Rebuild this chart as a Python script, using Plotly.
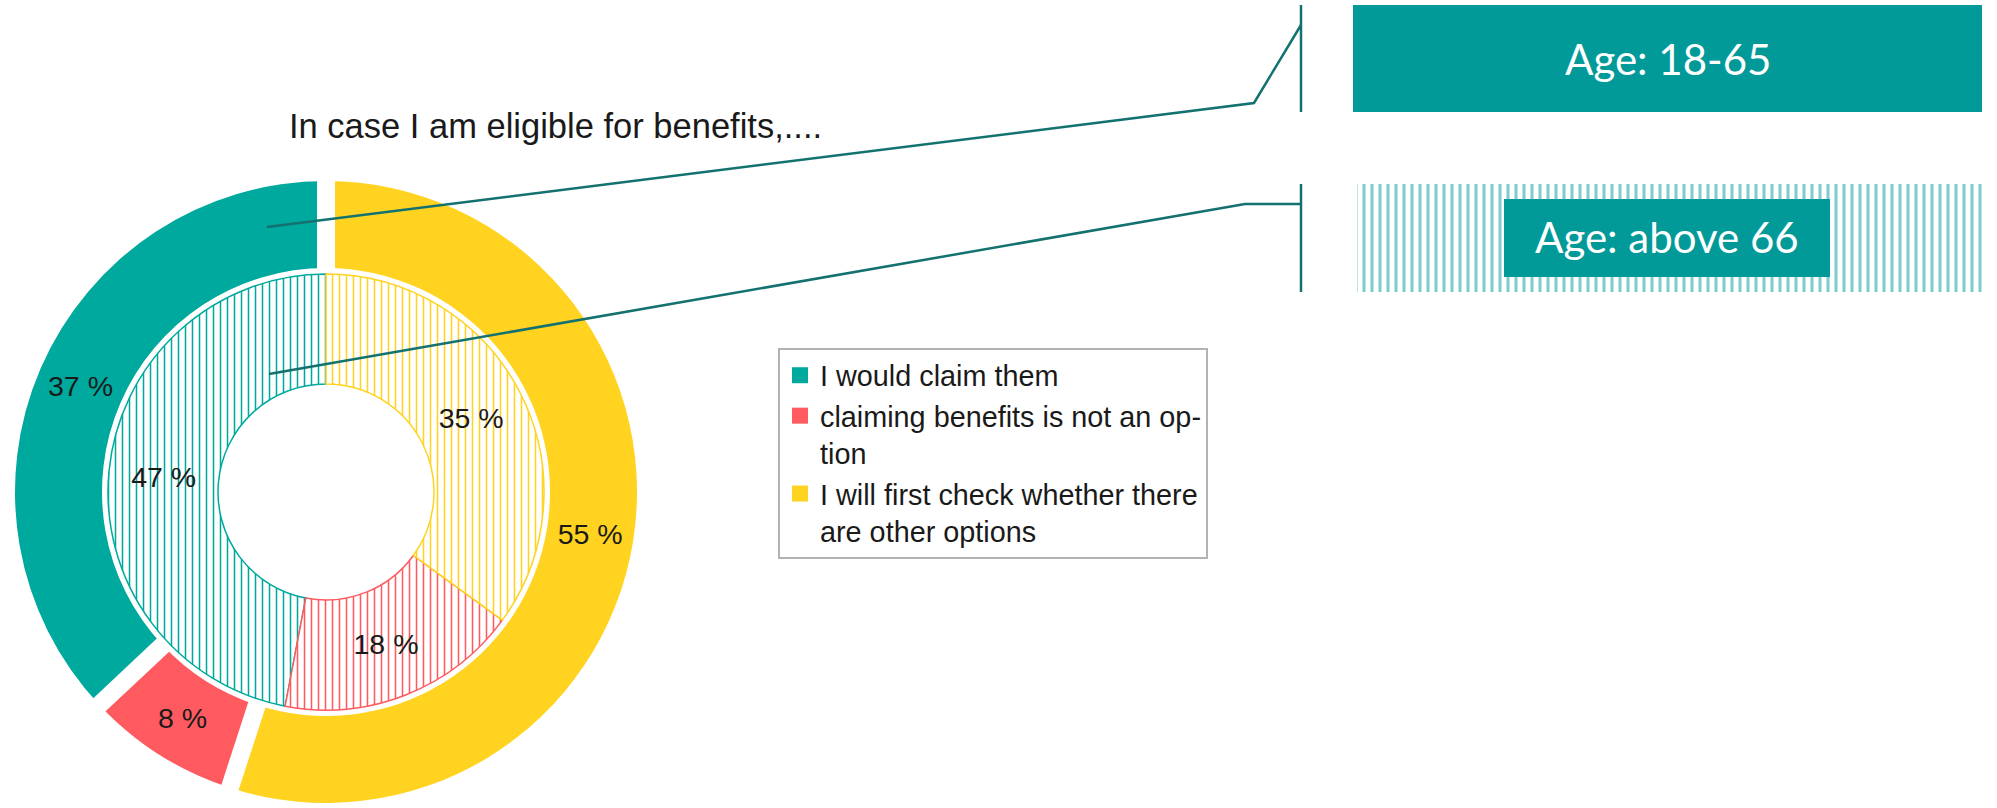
import math
import plotly.graph_objects as go

# ---------------- data ----------------
categories = ["I would claim them",
              "claiming benefits is not an option",
              "I will first check whether there are other options"]
legend_labels = ["I would claim them",
                 "claiming benefits is not an op-<br>tion",
                 "I will first check whether there<br>are other options"]
age_18_65 = [37, 8, 55]        # outer ring (solid)
age_above_66 = [47, 18, 35]    # inner ring (hatched)
colors = ["#00a99d", "#ff5a5f", "#ffd320"]
title_text = "In case I am eligible for benefits,...."
group_labels = ["Age: 18-65", "Age: above 66"]

# ---------------- geometry (pixels) ----------------
W, H = 1997, 808
CX, CY = 326, 492
R_OUT, R_OUT_HOLE = 311, 224
R_IN, R_IN_HOLE = 218, 108
GAP = 18
BOX_TEAL = "#029a99"
LINE_TEAL = "#137170"
TXT = "#1a1a1a"


def dom(r):
    return dict(x=[(CX - r) / W, (CX + r) / W],
                y=[(H - CY - r) / H, (H - CY + r) / H])


def first_slice_rotation(vals):
    # plotly's counterclockwise mode puts the first slice to the right of 12 o'clock;
    # rotate so that the first slice starts at 12 o'clock and runs counter-clockwise
    return -360.0 * vals[0] / sum(vals)


fig = go.Figure()

# outer ring: Age 18-65
fig.add_trace(go.Pie(
    labels=categories, values=age_18_65, sort=False,
    direction="counterclockwise", rotation=first_slice_rotation(age_18_65),
    hole=R_OUT_HOLE / R_OUT, domain=dom(R_OUT),
    marker=dict(colors=colors, line=dict(width=0)),
    text=[f"{v} %" for v in age_18_65], textinfo="text",
    textposition="inside", insidetextorientation="horizontal",
    textfont=dict(family="Liberation Sans", size=28.5, color=TXT),
    insidetextfont=dict(family="Liberation Sans", size=28.5, color=TXT),
    showlegend=False, hoverinfo="skip"))

# inner ring: Age above 66 (hatched)
fig.add_trace(go.Pie(
    labels=categories, values=age_above_66, sort=False,
    direction="counterclockwise", rotation=first_slice_rotation(age_above_66),
    hole=R_IN_HOLE / R_IN, domain=dom(R_IN),
    marker=dict(colors=colors, line=dict(color=colors, width=1.5),
                pattern=dict(shape="|", fgcolor=colors, bgcolor="white",
                             size=7, solidity=0.22, fillmode="replace")),
    text=[f"{v} %" for v in age_above_66], textinfo="text",
    textposition="inside", insidetextorientation="horizontal",
    textfont=dict(family="Liberation Sans", size=28.5, color=TXT),
    insidetextfont=dict(family="Liberation Sans", size=28.5, color=TXT),
    showlegend=False, hoverinfo="skip"))

# legend entries
for lab, col in zip(legend_labels, colors):
    fig.add_trace(go.Scatter(x=[None], y=[None], mode="markers", name=lab,
                             marker=dict(symbol="square", size=16, color=col),
                             hoverinfo="skip"))

# hatched background for "Age: above 66" key
hx0, hx1, hy0, hy1 = 1357, 1982, 184, 292
fig.add_trace(go.Scatter(
    x=[hx0, hx1, hx1, hx0, hx0], y=[hy0, hy0, hy1, hy1, hy0],
    mode="none", fill="toself", fillcolor="white",
    fillpattern=dict(shape="|", fgcolor=BOX_TEAL, bgcolor="white",
                     size=8, solidity=0.38),
    showlegend=False, hoverinfo="skip"))

shapes = []
# white separating gaps between outer-ring slices (at cumulative boundaries,
# slices run counter-clockwise from 12 o'clock)
total = sum(age_18_65)
cum = 0
for v in age_18_65:
    th = 2 * math.pi * cum / total
    r0, r1 = R_IN + 2, R_OUT + 6
    shapes.append(dict(type="line", xref="x", yref="y",
                       x0=CX - r0 * math.sin(th), y0=CY - r0 * math.cos(th),
                       x1=CX - r1 * math.sin(th), y1=CY - r1 * math.cos(th),
                       line=dict(color="white", width=GAP), layer="above"))
    cum += v

# key boxes
shapes.append(dict(type="rect", xref="x", yref="y", x0=1353, x1=1982, y0=5, y1=112,
                   fillcolor=BOX_TEAL, line=dict(width=0), layer="above"))
shapes.append(dict(type="rect", xref="x", yref="y", x0=1504, x1=1830, y0=199, y1=277,
                   fillcolor=BOX_TEAL, line=dict(width=0), layer="above"))
# connectors
shapes.append(dict(type="path", xref="x", yref="y",
                   path="M267,227 L1254,103 L1301,25",
                   line=dict(color=LINE_TEAL, width=2.5), layer="above"))
shapes.append(dict(type="path", xref="x", yref="y",
                   path="M269,374 L1245,204 L1301,204",
                   line=dict(color=LINE_TEAL, width=2.5), layer="above"))
shapes.append(dict(type="line", xref="x", yref="y", x0=1301, x1=1301, y0=5, y1=112,
                   line=dict(color=LINE_TEAL, width=2.5), layer="above"))
shapes.append(dict(type="line", xref="x", yref="y", x0=1301, x1=1301, y0=184, y1=292,
                   line=dict(color=LINE_TEAL, width=2.5), layer="above"))

annotations = [
    dict(x=287, y=126, xref="x", yref="y", text=title_text, showarrow=False,
         xanchor="left", yanchor="middle",
         font=dict(family="Liberation Sans", size=34.5, color=TXT)),
    dict(x=1667.5, y=58.5, xref="x", yref="y", text=group_labels[0], showarrow=False,
         xanchor="center", yanchor="middle",
         font=dict(family="Lato", size=42, color="white")),
    dict(x=1667, y=237, xref="x", yref="y", text=group_labels[1], showarrow=False,
         xanchor="center", yanchor="middle",
         font=dict(family="Lato", size=42, color="white")),
]

fig.update_layout(
    width=W, height=H,
    margin=dict(l=0, r=0, t=0, b=0, pad=0),
    paper_bgcolor="white", plot_bgcolor="rgba(0,0,0,0)",
    xaxis=dict(range=[0, W], visible=False, domain=[0, 1], fixedrange=True),
    yaxis=dict(range=[H, 0], visible=False, domain=[0, 1], fixedrange=True),
    shapes=shapes, annotations=annotations,
    showlegend=True,
    legend=dict(x=778 / W, y=1 - 348 / H, xanchor="left", yanchor="top",
                bgcolor="white", bordercolor="#b3b3b3", borderwidth=2,
                font=dict(family="Liberation Sans", size=28.8, color=TXT),
                valign="top", itemsizing="trace", tracegroupgap=0),
)

fig.write_html("out.html")
